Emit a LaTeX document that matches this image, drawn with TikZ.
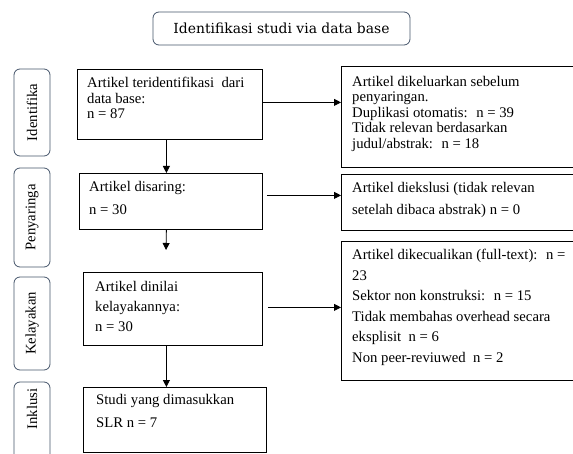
\documentclass[tikz,border=0pt]{standalone}
\usepackage{fontspec}
\setmainfont{Liberation Serif}
\newfontfamily\judulfont{DejaVu Serif}
\usetikzlibrary{arrows.meta}
\definecolor{garis}{HTML}{44546A}

\begin{document}
\begin{tikzpicture}[x=1pt,y=-1pt,
    kotak/.style={draw, line width=0.8pt, rectangle, anchor=north west, inner sep=0pt},
    tahap/.style={draw=garis, line width=0.8pt, rounded corners=6pt, rotate=90, inner sep=0pt,
        minimum height=36pt, font=\fontsize{14.7}{16}\selectfont},
    isi/.style={anchor=north west, align=left, inner sep=0pt},
    panah/.style={line width=0.8pt, -{Triangle[length=7pt,width=7pt]}}]
    \useasboundingbox (0,0) rectangle (573,454);
    \clip (0,0) rectangle (573,454);

    % Judul
    \node[draw=garis, line width=0.8pt, rounded corners=6pt, minimum width=257pt, minimum height=33pt,
        inner sep=0pt, font=\judulfont\fontsize{13.9}{17}\selectfont] (judul) at (281.5,28.5) {Identifikasi studi via data base};

    % Tahapan di kiri
    \node[tahap, minimum width=87pt] (p1) at (32,112.5) {Identifika};
    \node[tahap, minimum width=99pt] (p2) at (32,217.5) {Penyaringa};
    \node[tahap, minimum width=93pt] (p3) at (32,323.5) {Kelayakan};
    \node[tahap, minimum width=78pt] (p4) at (32,421) {\hspace{24pt}Inklusi};

    % Kotak alur utama
    \node[kotak, minimum width=185pt, minimum height=70pt] (b1) at (77,69) {};
    \node[kotak, minimum width=183pt, minimum height=56pt] (b2) at (79,173) {};
    \node[kotak, minimum width=179pt, minimum height=73pt] (b3) at (83,272) {};
    \node[kotak, minimum width=183pt, minimum height=65pt] (b4) at (83,387) {};

    % Kotak artikel yang dikeluarkan
    \node[kotak, minimum width=244pt, minimum height=101pt] (r1) at (341,66) {};
    \node[kotak, minimum width=244pt, minimum height=56pt] (r2) at (341,174) {};
    \node[kotak, minimum width=244pt, minimum height=139pt] (r3) at (341,241) {};

    % Isi kotak
    \node[isi, font=\fontsize{14.7}{15.5}\selectfont] (t1) at ([xshift=10pt,yshift=-8pt]b1.north west)
        {Artikel teridentifikasi \ dari\\data base:\\n = 87};
    \node[isi, font=\fontsize{14.7}{22.5}\selectfont] (t2) at ([xshift=10pt,yshift=-8.6pt]b2.north west)
        {Artikel disaring:\\n = 30};
    \node[isi, font=\fontsize{14.7}{20}\selectfont] (t3) at ([xshift=12pt,yshift=-9.6pt]b3.north west)
        {Artikel dinilai\\kelayakannya:\\n = 30};
    \node[isi, font=\fontsize{14.7}{22.3}\selectfont] (t4) at ([xshift=13pt,yshift=-7.3pt]b4.north west)
        {Studi yang dimasukkan\\SLR n = 7};
    \node[isi, font=\fontsize{14.7}{15.5}\selectfont] (s1) at ([xshift=11pt,yshift=-10pt]r1.north west)
        {Artikel dikeluarkan sebelum\\penyaringan.\\Duplikasi otomatis: \ n = 39\\Tidak relevan berdasarkan\\judul/abstrak: \ n = 18};
    \node[isi, font=\fontsize{14.7}{22.5}\selectfont] (s2) at ([xshift=11pt,yshift=-8pt]r2.north west)
        {Artikel diekslusi (tidak relevan\\setelah dibaca abstrak) n = 0};
    \node[isi, font=\fontsize{14.7}{20.5}\selectfont] (s3) at ([xshift=11pt,yshift=-8pt]r3.north west)
        {Artikel dikecualikan (full-text): \ n =\\23\\Sektor non konstruksi: \ n = 15\\Tidak membahas overhead secara\\eksplisit \ n = 6\\Non peer-reviuwed \ n = 2};

    % Panah ke bawah
    \draw[panah] ([xshift=-3.5pt]b1.south) -- ([xshift=-3.5pt]b1.south |- b2.north);
    \coordinate (ujung) at (166,250);
    \draw[panah] ([xshift=-4.5pt]b2.south) -- (ujung);
    \draw[panah] ([xshift=-6.5pt]b3.south) -- ([xshift=-6.5pt]b3.south |- b4.north);

    % Panah ke kanan
    \draw[panah] ([yshift=2pt]b1.east) -- ([yshift=2pt]b1.east -| r1.west);
    \draw[panah] ([xshift=4pt,yshift=6pt]b2.east) -- ([yshift=6pt]b2.east -| r2.west);
    \draw[panah] ([xshift=5pt,yshift=1.5pt]b3.east) -- ([yshift=1.5pt]b3.east -| r3.west);
\end{tikzpicture}
\end{document}
